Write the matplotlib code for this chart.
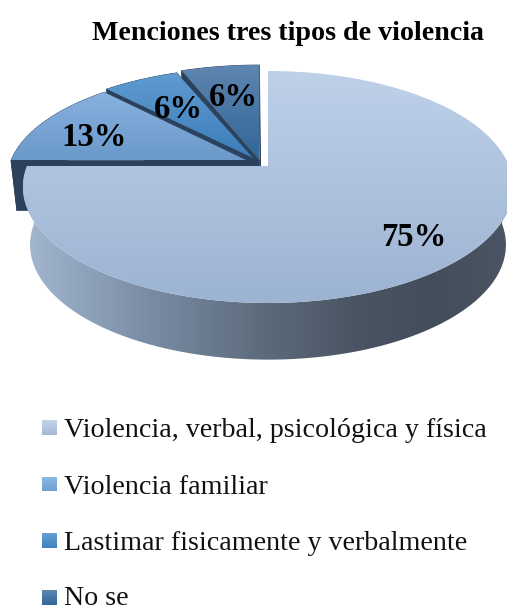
import numpy as np
import matplotlib
matplotlib.use("Agg")
import matplotlib.pyplot as plt
from matplotlib.patches import Polygon
from matplotlib.colors import LinearSegmentedColormap

title = "Menciones tres tipos de violencia"
categories = ["Violencia, verbal, psicológica y física", "Violencia familiar",
              "Lastimar fisicamente y verbalmente", "No se"]
values = [75, 13, 6, 6]
value_labels = ["75%", "13%", "6%", "6%"]

W, H = 507, 610
plt.rcParams['font.family'] = ['Liberation Serif', 'DejaVu Serif']
fig = plt.figure(figsize=(W / 100, H / 100), dpi=100, facecolor='white')
ax = fig.add_axes([0, 0, 1, 1])
ax.set_xlim(0, W)
ax.set_ylim(H, 0)
ax.axis('off')

face_cols = [("#bfd1e9", "#9cb3d2"), ("#88b2e0", "#6a99ca"),
             ("#5f9bd0", "#3c7dbb"), ("#5f86b0", "#2f6598")]
legend_cols = [("#c3d4ec", "#a3b8d6"), ("#8fb8e4", "#6fa0d2"),
               ("#66a0d4", "#3f80be"), ("#5f86b0", "#30669a")]
dark = "#2c415c"
K = 0.181
# per slice: apex x, apex y, radius a, radius b, depth, bottom scale
geom = [(268, 166, 241, 112.2, 58, 0.971),
        (247, 160.5, 236, 106.0, 50, 0.975),
        (253, 158, 242, 107.0, 50, 0.975),
        (259.5, 160, 247, 112.2, 50, 0.975)]
label_pos = [(414, 237), (94, 137), (178, 109), (233, 98)]


def project(theta, g):
    cx, cy, a, b, d, s = g
    u, v = np.cos(theta), np.sin(theta)
    return cx + a * u / (1 + K * v), cy - b * v / (1 + K * v)


def project_bottom(theta, g):
    cx, cy, a, b, d, s = g
    x, y = project(theta, g)
    return cx + s * (x - cx), cy + d + (y - cy) * 0.99


def vgrad(c0, c1, poly, z):
    cmap = LinearSegmentedColormap.from_list("g", [c0, c1])
    pts = poly.get_xy()
    x0, x1, y0, y1 = pts[:, 0].min(), pts[:, 0].max(), pts[:, 1].min(), pts[:, 1].max()
    im = ax.imshow(np.linspace(0, 1, 256)[:, None], cmap=cmap, aspect='auto', zorder=z,
                   extent=(x0, x1, y1, y0), interpolation='bilinear')
    ax.add_patch(poly)
    poly.set(facecolor='none', edgecolor='none', zorder=z)
    im.set_clip_path(poly)


# slice angles, clockwise from 12 o'clock (big slice first)
fr = np.cumsum([0] + values) / sum(values)
starts = np.pi / 2 - 2 * np.pi * fr[:-1]
ends = np.pi / 2 - 2 * np.pi * fr[1:]

# draw back to front: last slice first, big slice last
z = 2
for i in [3, 2, 1, 0]:
    g = geom[i]
    th = np.linspace(starts[i], ends[i], 300)
    xs, ys = project(th, g)
    apex = (g[0], g[1])
    if i > 0:
        # dark extruded body of the exploded slices
        xb, yb = project_bottom(th, g)
        body = np.vstack([np.c_[xs, ys], np.c_[xb[::-1], yb[::-1]]])
        ax.add_patch(Polygon(body, closed=True, facecolor=dark, edgecolor=dark, lw=0.5, zorder=z))
        apex_b = (g[0], g[1] + g[4])
        for t in (starts[i], ends[i]):
            px, py = project(t, g)
            qx, qy = project_bottom(t, g)
            ax.add_patch(Polygon([apex, (px, py), (qx, qy), apex_b], closed=True,
                                 facecolor=dark, edgecolor=dark, lw=0.5, zorder=z))
    else:
        # front wall of the big slice with horizontal shading
        th_f = np.linspace(np.pi, 2 * np.pi, 300)
        xt, yt = project(th_f, g)
        xb, yb = project_bottom(th_f, g)
        wall = Polygon(np.vstack([np.c_[xt, yt], np.c_[xb[::-1], yb[::-1]]]), closed=True,
                       facecolor='none', edgecolor='none', zorder=z)
        ax.add_patch(wall)
        stops = [(0.0, "#a4b8d1"), (0.26, "#7a8da5"), (0.5, "#5c6a7b"),
                 (0.7, "#495362"), (0.85, "#444d5c"), (1.0, "#4b5564")]
        cm = LinearSegmentedColormap.from_list("side", stops)
        im = ax.imshow(np.linspace(0, 1, 256)[None, :], cmap=cm, aspect='auto', zorder=z,
                       extent=(20, 510, 370, 150))
        im.set_clip_path(wall)
    z += 1
    face = Polygon(np.vstack([[apex], np.c_[xs, ys]]), closed=True)
    vgrad(face_cols[i][0], face_cols[i][1], face, z)
    z += 1

for lab, (x, y) in zip(value_labels, label_pos):
    ax.text(x, y, lab, fontsize=23.5, fontweight='bold', ha='center', va='center',
            color='black', zorder=30)

ax.text(288, 34, title, fontsize=20.2, fontweight='bold', ha='center', va='center', color='black')

leg_y = [427.5, 484, 540.5, 597.5]
text_shift = [3, 3, 3, 1]
for name, y, cols, dy in zip(categories, leg_y, legend_cols, text_shift):
    sq = Polygon([(42, y - 7.5), (57, y - 7.5), (57, y + 7.5), (42, y + 7.5)], closed=True)
    vgrad(cols[0], cols[1], sq, 5)
    ax.text(64, y + dy, name, fontsize=20.2, ha='left', va='center', color='#111111')

ax.set_xlim(0, W)
ax.set_ylim(H, 0)
fig.savefig("out.png", dpi=100, facecolor='white')
